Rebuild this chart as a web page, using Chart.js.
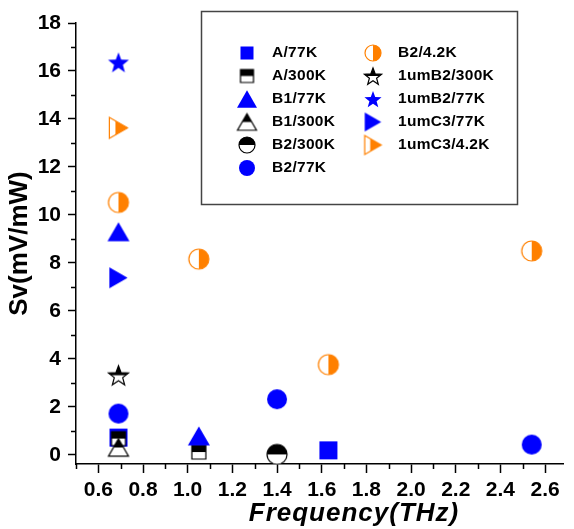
<!DOCTYPE html>
<html>
<head>
<meta charset="utf-8">
<script src="https://cdn.jsdelivr.net/npm/chart.js@4.4.1/dist/chart.umd.min.js"></script>
<style>
    html, body { margin: 0; padding: 0; background: #fff; }
    #wrap { width: 574px; height: 529px; }
</style>
</head>
<body>
<div id="wrap"><canvas id="svChart" width="574" height="529"></canvas></div>
<script>

/* ==========================================
   DATA
========================================== */

const seriesNames = [
    "A/77K", "A/300K", "B1/77K", "B1/300K", "B2/300K", "B2/77K",
    "B2/4.2K", "1umB2/300K", "1umB2/77K", "1umC3/77K", "1umC3/4.2K"
];

// frequency (THz) of each point, per series
const freqValues = [
    [0.69, 1.63],
    [0.69, 1.05],
    [0.69, 1.05],
    [0.69],
    [1.40],
    [0.69, 1.40, 2.54],
    [0.69, 1.05, 1.63, 2.54],
    [0.69],
    [0.69],
    [0.69],
    [0.69]
];

// Sv (mV/mW) of each point, per series
const svValues = [
    [0.72, 0.19],
    [0.68, 0.12],
    [9.3, 0.79],
    [0.31],
    [0.02],
    [1.72, 2.32, 0.43],
    [10.52, 8.16, 3.76, 8.5],
    [3.32],
    [16.36],
    [7.38],
    [13.63]
];

const xTicks = [0.6, 0.8, 1.0, 1.2, 1.4, 1.6, 1.8, 2.0, 2.2, 2.4, 2.6];
const xMinor = [0.5, 0.7, 0.9, 1.1, 1.3, 1.5, 1.7, 1.9, 2.1, 2.3, 2.5];
const yTicks = [0, 2, 4, 6, 8, 10, 12, 14, 16, 18];
const yMinor = [1, 3, 5, 7, 9, 11, 13, 15, 17];


/* ==========================================
   MARKERS
========================================== */

const BLUE = "#0000ff";
const ORANGE = "#ff8000";
const BLACK = "#000000";

// shape, colour, fill mode, plot size, legend size
const markerSpecs = [
    ["square", BLUE, "full", 18, 13],
    ["square", BLACK, "top", 14, 13],
    ["triangle", BLUE, "full", 22, 20],
    ["triangle", BLACK, "top", 20, 19],
    ["circle", BLACK, "top", 20, 16],
    ["circle", BLUE, "full", 20, 16],
    ["circle", ORANGE, "right", 20, 16],
    ["star", BLACK, "top", 21, 18],
    ["star", BLUE, "full", 22, 18],
    ["right", BLUE, "full", 21, 19],
    ["right", ORANGE, "right", 21, 19]
];

function makeMarker(shape, color, mode, size) {

    const pad = 2;
    const c = document.createElement("canvas");
    c.width = c.height = Math.ceil(size + pad * 2);
    const g = c.getContext("2d");
    const m = c.width / 2;
    const r = size / 2;
    let split = m;

    g.beginPath();

    if (shape === "square") {
        g.rect(m - r, m - r, size, size);
    }
    else if (shape === "circle") {
        g.arc(m, m, r, 0, Math.PI * 2);
    }
    else if (shape === "triangle") {
        const h = size * 0.87;
        g.moveTo(m, m - h / 2);
        g.lineTo(m + r, m + h / 2);
        g.lineTo(m - r, m + h / 2);
        g.closePath();
    }
    else if (shape === "right") {
        const w = size * 0.87;
        g.moveTo(m + w / 2, m);
        g.lineTo(m - w / 2, m - r);
        g.lineTo(m - w / 2, m + r);
        g.closePath();
        split = m - w / 6;
    }
    else if (shape === "star") {
        for (let i = 0; i < 10; i++) {
            const a = -Math.PI / 2 + i * Math.PI / 5;
            const rr = i % 2 ? r * 0.42 : r;
            g.lineTo(m + rr * Math.cos(a), m + 1 + rr * Math.sin(a));
        }
        g.closePath();
    }

    if (mode === "full") {
        g.fillStyle = color;
        g.fill();
    }
    else {
        g.fillStyle = "#fff";
        g.fill();
        g.save();
        g.clip();
        g.fillStyle = color;
        if (mode === "top") {
            g.fillRect(0, 0, c.width, m);
        }
        else {
            g.fillRect(split, 0, c.width, c.height);
        }
        g.restore();
        g.strokeStyle = color;
        g.lineWidth = 1.2;
        g.stroke();
    }

    return c;
}

const plotMarkers = markerSpecs.map(s => makeMarker(s[0], s[1], s[2], s[3]));
const legendMarkers = markerSpecs.map(s => makeMarker(s[0], s[1], s[2], s[4]));


/* ==========================================
   EXTRA DRAWING (minor ticks, x title, legend box)
========================================== */

const FONT = "'Liberation Sans', Arial, sans-serif";

const decorPlugin = {

    id: "decor",

    afterDraw(chart) {

        const ctx = chart.ctx;
        const xs = chart.scales.x;
        const ys = chart.scales.y;

        ctx.save();

        // minor ticks
        ctx.strokeStyle = "#000";
        ctx.lineWidth = 1.5;
        ctx.beginPath();
        xMinor.forEach(v => {
            const px = Math.round(xs.getPixelForValue(v)) + 0.5;
            ctx.moveTo(px, xs.top);
            ctx.lineTo(px, xs.top + 5);
        });
        yMinor.forEach(v => {
            const py = Math.round(ys.getPixelForValue(v)) + 0.5;
            ctx.moveTo(ys.right, py);
            ctx.lineTo(ys.right - 5, py);
        });
        ctx.stroke();

        // x axis title
        ctx.fillStyle = "#000";
        ctx.font = "italic bold 26px " + FONT;
        ctx.letterSpacing = "1px";
        ctx.textAlign = "center";
        ctx.textBaseline = "middle";
        ctx.fillText("Frequency(THz)", 354, 514);
        ctx.letterSpacing = "0px";

        // legend box
        ctx.fillStyle = "#fff";
        ctx.fillRect(201, 11, 317, 194);
        ctx.strokeStyle = "#444";
        ctx.lineWidth = 1.5;
        ctx.strokeRect(201.5, 11.5, 316, 193);

        ctx.font = "bold 15.5px " + FONT;
        ctx.letterSpacing = "0.3px";
        ctx.textAlign = "left";
        ctx.fillStyle = "#000";

        seriesNames.forEach((name, i) => {
            const col = i < 6 ? 0 : 1;
            const row = col === 0 ? i : i - 6;
            const mx = col === 0 ? 247 : 373;
            const tx = col === 0 ? 272 : 398;
            const y = 53 + row * 23;
            const mk = legendMarkers[i];
            ctx.drawImage(mk, mx - mk.width / 2, y - mk.height / 2);
            ctx.fillText(name, tx, y);
        });

        ctx.restore();
    }
};


/* ==========================================
   CHART
========================================== */

Chart.defaults.font.family = FONT;
Chart.defaults.color = "#000";

const datasets = seriesNames.map((name, i) => ({
    label: name,
    data: freqValues[i].map((f, j) => ({ x: f, y: svValues[i][j] })),
    pointStyle: plotMarkers[i],
    pointRadius: 10,
    order: -i
}));

new Chart(document.getElementById("svChart"), {

    type: "scatter",

    data: { datasets },

    options: {

        responsive: false,
        animation: false,

        layout: {
            padding: { top: 23, right: 3, left: 0, bottom: 0 }
        },

        plugins: {
            legend: { display: false },
            tooltip: { enabled: false }
        },

        scales: {

            x: {
                type: "linear",
                min: 0.5,
                max: 2.68,
                afterBuildTicks: s => { s.ticks = xTicks.map(v => ({ value: v })); },
                afterFit: s => { s.height = 65; },
                ticks: {
                    color: "#000",
                    padding: 5,
                    font: { size: 21, weight: "bold" },
                    callback: v => v.toFixed(1)
                },
                grid: {
                    drawOnChartArea: false,
                    tickLength: 9,
                    tickColor: "#000",
                    tickWidth: 1.5
                },
                border: { color: "#000", width: 1.5 }
            },

            y: {
                type: "linear",
                min: -0.38,
                max: 18,
                afterBuildTicks: s => { s.ticks = yTicks.map(v => ({ value: v })); },
                afterFit: s => { s.width = 76; },
                ticks: {
                    color: "#000",
                    padding: 7,
                    font: { size: 21, weight: "bold" }
                },
                grid: {
                    drawOnChartArea: false,
                    tickLength: 8,
                    tickColor: "#000",
                    tickWidth: 1.5
                },
                border: { color: "#000", width: 1.5 },
                title: {
                    display: true,
                    text: "Sv(mV/mW)",
                    color: "#000",
                    font: { size: 26, weight: "bold" },
                    padding: { top: 4, bottom: 0 }
                }
            }
        }
    },

    plugins: [decorPlugin]
});

</script>
</body>
</html>
